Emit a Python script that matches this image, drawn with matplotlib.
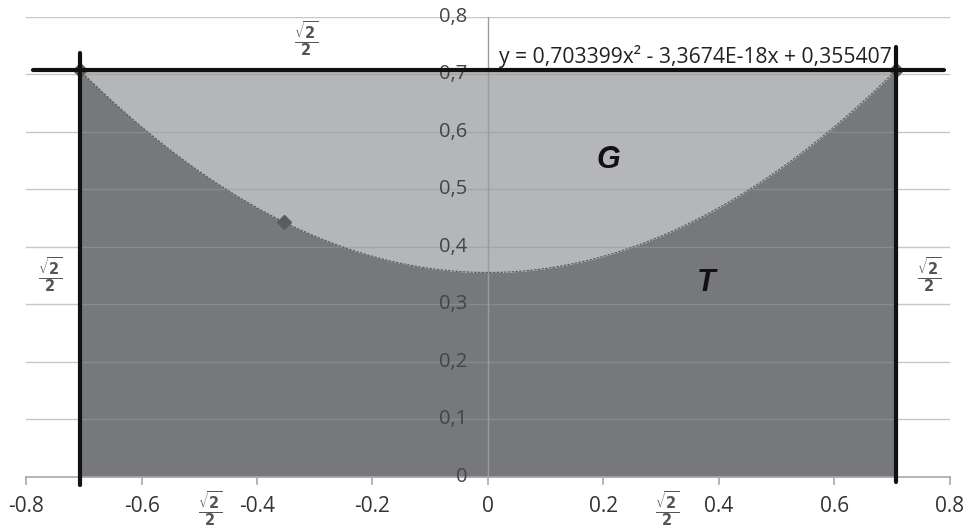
import numpy as np
import matplotlib
matplotlib.use('Agg')
import matplotlib.pyplot as plt

# Coeficientes de la línea de tendencia mostrados en el gráfico
trend_coef = [0.703399, -3.3674e-18, 0.355407]
trend_label = 'y = 0,703399x² - 3,3674E-18x + 0,355407'

# Puntos marcados
px = [-0.7071, -0.3536, 0.7071]
py = [0.7071, 0.4433, 0.7071]

# Límites de la región
r = 0.7071  # sqrt(2)/2

x_ticks = [-0.8, -0.6, -0.4, -0.2, 0, 0.2, 0.4, 0.6, 0.8]
x_ticklabels = ['-0.8', '-0.6', '-0.4', '-0.2', '0', '0.2', '0.4', '0.6', '0.8']
y_ticks = [0, 0.1, 0.2, 0.3, 0.4, 0.5, 0.6, 0.7, 0.8]
y_ticklabels = ['0', '0,1', '0,2', '0,3', '0,4', '0,5', '0,6', '0,7', '0,8']

frac = r'$\frac{\sqrt{2}}{2}$'
frac_pos = [(-0.315, 0.762), (-0.758, 0.352), (0.765, 0.352), (-0.481, -0.055), (0.31, -0.055)]

plt.rcParams['font.family'] = ['Open Sans', 'DejaVu Sans']
plt.rcParams['mathtext.default'] = 'bf'

fig = plt.figure(figsize=(9.68, 5.27), dpi=100)
ax = fig.add_axes([0.027, 0.095, 0.954, 0.873])
ax.set_xlim(-0.8, 0.8)
ax.set_ylim(0, 0.8)
ax.axis('off')

xs = np.linspace(-r, r, 400)
ys = np.polyval(trend_coef, xs)

# rellenos
ax.fill_between(xs, 0, ys, color='#76787b', lw=0, zorder=1)
ax.fill_between(xs, ys, r, color='#b4b6b9', lw=0, zorder=1)
ax.plot(xs, ys, color='#5c5e60', lw=0.9, ls=(0, (2, 1)), zorder=2)

# cuadrícula horizontal
for yv in y_ticks[1:]:
    ax.plot([-0.8, 0.8], [yv, yv], color='#9a9a9a', lw=1, alpha=0.55, zorder=1.5)

# ejes
ax.plot([0, 0], [0, 0.8], color='#9a9a9a', lw=1, zorder=1.5)
ax.plot([-0.8, 0.8], [0, 0], color='#a8a8a8', lw=1.2, zorder=1.5, clip_on=False)
for xv, lab in zip(x_ticks, x_ticklabels):
    ax.plot([xv, xv], [0, -0.012], color='#a8a8a8', lw=1.2, clip_on=False, zorder=1.5)
    ax.text(xv, -0.052, lab, ha='center', va='center', fontsize=15, color='#333333')
for yv, lab in zip(y_ticks, y_ticklabels):
    ax.text(-0.036, yv, lab, ha='right', va='center', fontsize=14.5, color='#444444', zorder=1.6)

# líneas gruesas
ax.plot([-0.788, 0.791], [r, r], color='#111111', lw=3, solid_capstyle='round', zorder=3)
ax.plot([-r, -r], [-0.014, 0.737], color='#111111', lw=3, solid_capstyle='round', zorder=3, clip_on=False)
ax.plot([r, r], [-0.008, 0.748], color='#111111', lw=3, solid_capstyle='round', zorder=3, clip_on=False)

# puntos
ax.plot(px, py, 'D', color='#5a5c5e', ms=7, zorder=2.5)

# textos
ax.text(0.02, 0.731, trend_label, ha='left', va='center', fontsize=15.2, color='#222222', zorder=4)
ax.text(0.208, 0.551, 'G', fontsize=22, fontweight='bold', fontstyle='italic',
        family='Liberation Sans', color='#111111', ha='center', va='center', zorder=4)
ax.text(0.379, 0.337, 'T', fontsize=22, fontweight='bold', fontstyle='italic',
        family='Liberation Sans', color='#111111', ha='center', va='center', zorder=4)
for fx, fy in frac_pos:
    ax.text(fx, fy, frac, fontsize=15, color='#555555', ha='center', va='center', zorder=4)

fig.savefig('out.png', dpi=100, facecolor='white')
